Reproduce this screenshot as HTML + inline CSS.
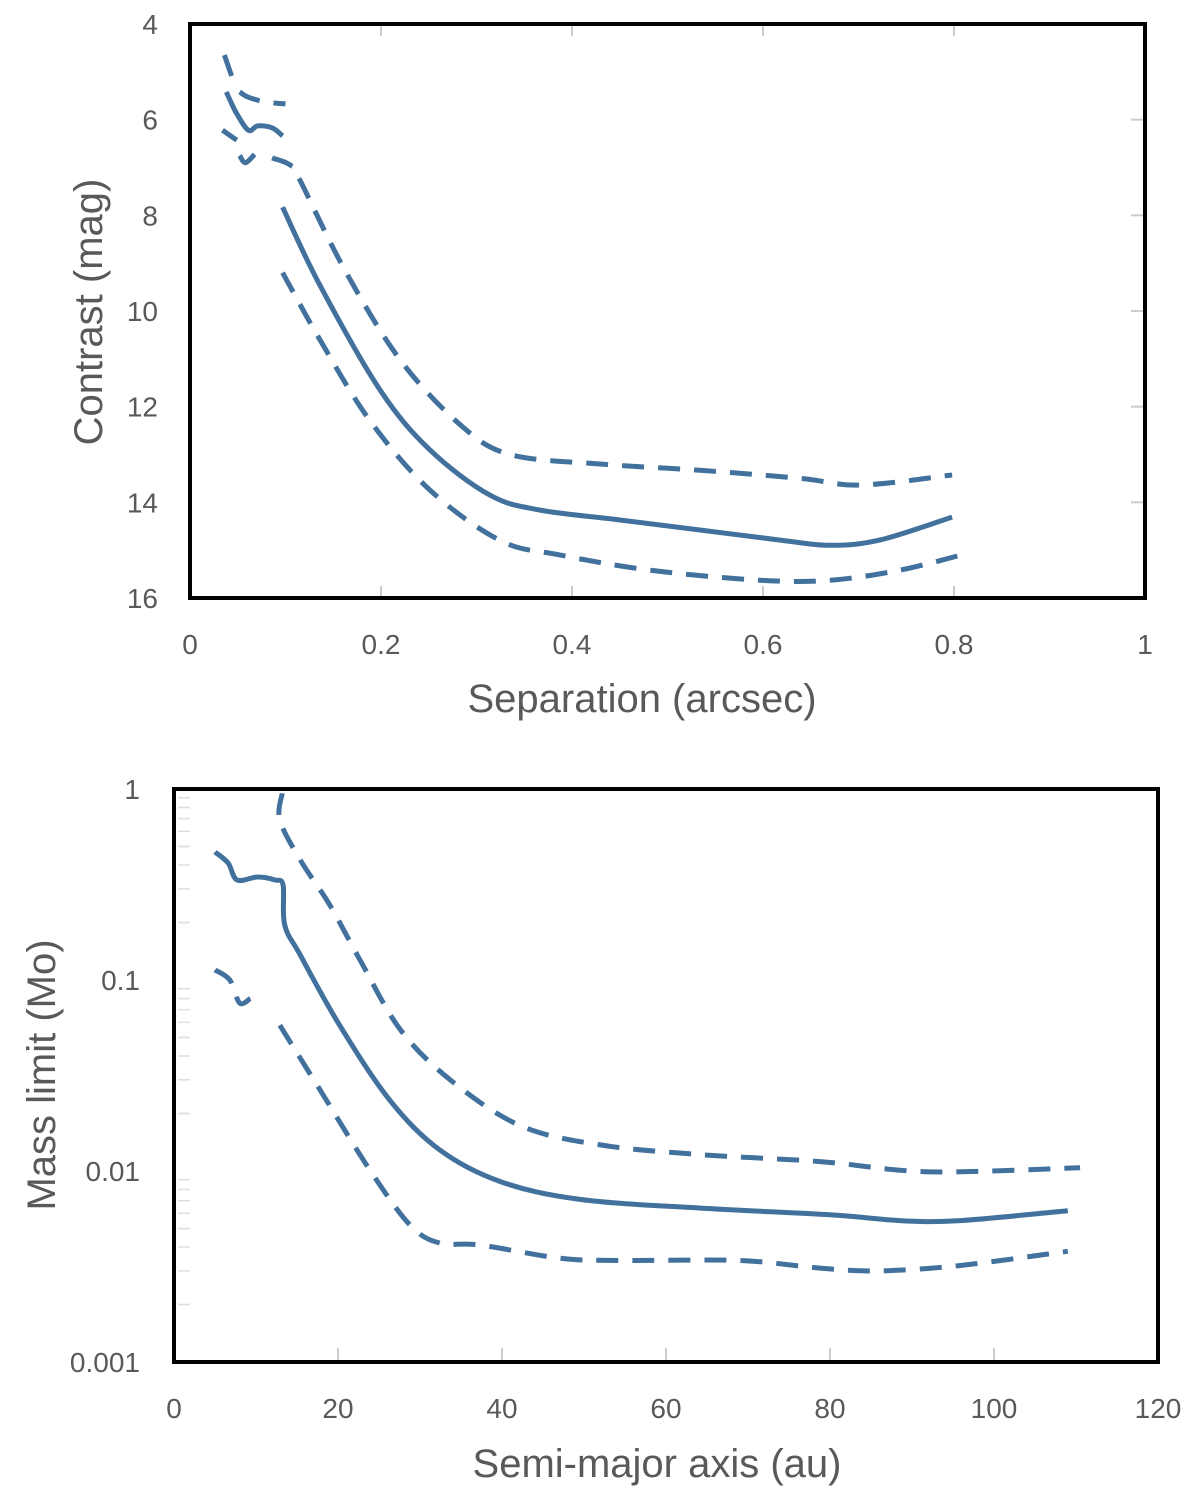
<!DOCTYPE html>
<html><head><meta charset="utf-8"><style>
body{margin:0;background:#fff;}
svg text{font-family:"Liberation Sans",sans-serif;fill:#595959;}
</style></head><body>
<svg id="chart" width="1200" height="1498" viewBox="0 0 1200 1498" xmlns="http://www.w3.org/2000/svg">
<g id="top"></g><g id="bot"></g>
</svg>
<script>
// Top chart data (separation arcsec, contrast mag); null breaks a line
const topMainX=[0.038,0.048,0.061,0.071,0.086,0.097,null,0.097,0.136,0.199,0.251,0.314,0.366,0.45,0.534,0.618,0.67,0.722,0.798];
const topMainY=[5.42,5.84,6.22,6.13,6.17,6.34,null,7.83,9.46,11.65,12.9,13.85,14.16,14.37,14.58,14.79,14.9,14.79,14.31];
const topUpX=[0.036,0.045,null,0.052,0.061,0.079,0.1,null,0.086,0.105,0.115,0.162,0.22,0.283,0.335,0.429,0.534,0.639,0.702,0.798];
const topUpY=[4.65,5.17,null,5.42,5.53,5.63,5.67,null,6.8,6.95,7.26,9.14,11.02,12.38,13.0,13.2,13.33,13.5,13.64,13.43];
const topLoX=[0.034,0.049,null,0.052,0.058,0.068,null,0.097,0.136,0.188,0.251,0.325,0.387,0.482,0.597,0.67,0.743,0.808];
const topLoY=[6.22,6.43,null,6.75,6.9,6.72,null,9.2,10.6,12.28,13.74,14.8,15.1,15.42,15.63,15.63,15.42,15.1];
const topXTicks=[0,0.2,0.4,0.6,0.8,1];
const topYTicks=[4,6,8,10,12,14,16];
// Bottom chart data (semi-major axis au, mass limit Msun)
const botMainX=[5,6.6,7.7,10.2,12.3,13.3,13.5,15.4,20.2,26.3,32.4,39.8,49.5,64,80,88.5,95.9,109];
const botMainY=[0.468,0.41,0.334,0.346,0.334,0.314,0.194,0.135,0.058,0.0235,0.0129,0.0088,0.0071,0.0064,0.0059,0.0055,0.0055,0.0062];
const botUpX=[13.2,12.9,15.4,19,22.7,27.6,33.7,42.2,52,64,78.8,88.5,95.9,110.5];
const botUpY=[0.95,0.69,0.425,0.247,0.127,0.055,0.030,0.0173,0.0137,0.0122,0.0112,0.0101,0.0099,0.0104];
const botLoX=[5,6.8,8,9.3,null,12.9,17.8,23.9,28.8,32.4,37.3,47,54.4,69,78.8,86,95.9,109];
const botLoY=[0.113,0.1,0.0758,0.08,null,0.058,0.0266,0.0101,0.0052,0.0042,0.0041,0.0035,0.0034,0.0034,0.0031,0.003,0.0032,0.0038];
const botXTicks=[0,20,40,60,80,100,120];
const botYTicks=[1,0.1,0.01,0.001];
const botYTickLabels=["1","0.1","0.01","0.001"];

const NS="http://www.w3.org/2000/svg";
function mk(parent,tag,attrs,text){const e=document.createElementNS(NS,tag);for(const k in attrs)e.setAttribute(k,attrs[k]);if(text!==undefined)e.textContent=text;parent.appendChild(e);return e;}
function smoothSeg(pts){
  if(pts.length<2)return "";
  let d="M"+pts[0][0].toFixed(1)+","+pts[0][1].toFixed(1);
  for(let i=0;i<pts.length-1;i++){
    const p0=pts[Math.max(0,i-1)],p1=pts[i],p2=pts[i+1],p3=pts[Math.min(pts.length-1,i+2)];
    const c1=[p1[0]+(p2[0]-p0[0])/6,p1[1]+(p2[1]-p0[1])/6];
    const c2=[p2[0]-(p3[0]-p1[0])/6,p2[1]-(p3[1]-p1[1])/6];
    d+=" C"+c1[0].toFixed(1)+","+c1[1].toFixed(1)+" "+c2[0].toFixed(1)+","+c2[1].toFixed(1)+" "+p2[0].toFixed(1)+","+p2[1].toFixed(1);
  }
  return d+" ";
}
function pathD(xs,ys,sx,sy){let d="",seg=[];for(let i=0;i<=xs.length;i++){if(i===xs.length||xs[i]===null){d+=smoothSeg(seg);seg=[];continue;}seg.push([sx(xs[i]),sy(ys[i])]);}return d;}
const blue="#41719c";

// TOP
const T=document.getElementById('top');
const tx=v=>190+955*v, ty=v=>24+(v-4)*47.83;
topXTicks.forEach(v=>{
  const l=mk(T,'line',{x1:tx(v),x2:tx(v),y1:24,y2:36,stroke:'#ccc','stroke-width':2});
  
  mk(T,'line',{x1:tx(v),x2:tx(v),y1:586,y2:598,stroke:'#ccc','stroke-width':2});
  const t=mk(T,'text',{x:tx(v),y:654,'font-size':28,'text-anchor':'middle'},String(v));
  
});
topYTicks.forEach(v=>{
  mk(T,'line',{x1:1131,x2:1145,y1:ty(v),y2:ty(v),stroke:'#ccc','stroke-width':2});
  const t=mk(T,'text',{x:158,y:ty(v)+10,'font-size':28,'text-anchor':'end'},String(v));
  
});
[[topMainX,topMainY,null,'contrast-median-line'],[topUpX,topUpY,'22 14','contrast-upper-dashed'],[topLoX,topLoY,'22 14','contrast-lower-dashed']].forEach(s=>{
  const p=mk(T,'path',{d:pathD(s[0],s[1],tx,ty),fill:'none',stroke:blue,'stroke-width':5,'stroke-linecap':'butt','stroke-linejoin':'round'});
  if(s[2])p.setAttribute('stroke-dasharray',s[2]);
  
});
const tb=mk(T,'rect',{x:190,y:24,width:955,height:574,fill:'none',stroke:'#000','stroke-width':4});

const tt1=mk(T,'text',{x:642,y:712,'font-size':40,'text-anchor':'middle'},'Separation (arcsec)');

const tt2=mk(T,'text',{x:0,y:0,'font-size':40,'text-anchor':'middle',transform:'translate(102,312) rotate(-90)'},'Contrast (mag)');


// BOTTOM
const B=document.getElementById('bot');
const bx=v=>174+8.2*v, by=v=>789-Math.log10(v)*191;
botXTicks.forEach(v=>{
  mk(B,'line',{x1:bx(v),x2:bx(v),y1:1348,y2:1362,stroke:'#ccc','stroke-width':2});
  const t=mk(B,'text',{x:bx(v),y:1418,'font-size':28,'text-anchor':'middle'},String(v));
  
});
botYTicks.forEach((v,i)=>{
  const t=mk(B,'text',{x:140,y:by(v)+10,'font-size':28,'text-anchor':'end'},botYTickLabels[i]);
  
  if(i<botYTicks.length-1){for(let k=2;k<10;k++){const mv=v/10*k;mk(B,'line',{x1:178,x2:190,y1:by(mv),y2:by(mv),stroke:'#ddd','stroke-width':1.5});}}
});
[[botMainX,botMainY,null,'mass-median-line'],[botUpX,botUpY,'22 14','mass-upper-dashed'],[botLoX,botLoY,'22 14','mass-lower-dashed']].forEach(s=>{
  const p=mk(B,'path',{d:pathD(s[0],s[1],bx,by),fill:'none',stroke:blue,'stroke-width':5,'stroke-linejoin':'round'});
  if(s[2])p.setAttribute('stroke-dasharray',s[2]);
  
});
const bb=mk(B,'rect',{x:174,y:789,width:984,height:573,fill:'none',stroke:'#000','stroke-width':4});

const bt1=mk(B,'text',{x:657,y:1477,'font-size':40,'text-anchor':'middle'},'Semi-major axis (au)');

const bt2=mk(B,'text',{x:0,y:0,'font-size':40,'text-anchor':'middle',transform:'translate(55,1075) rotate(-90)'},'Mass limit (Mo)');

</script>
</body></html>
